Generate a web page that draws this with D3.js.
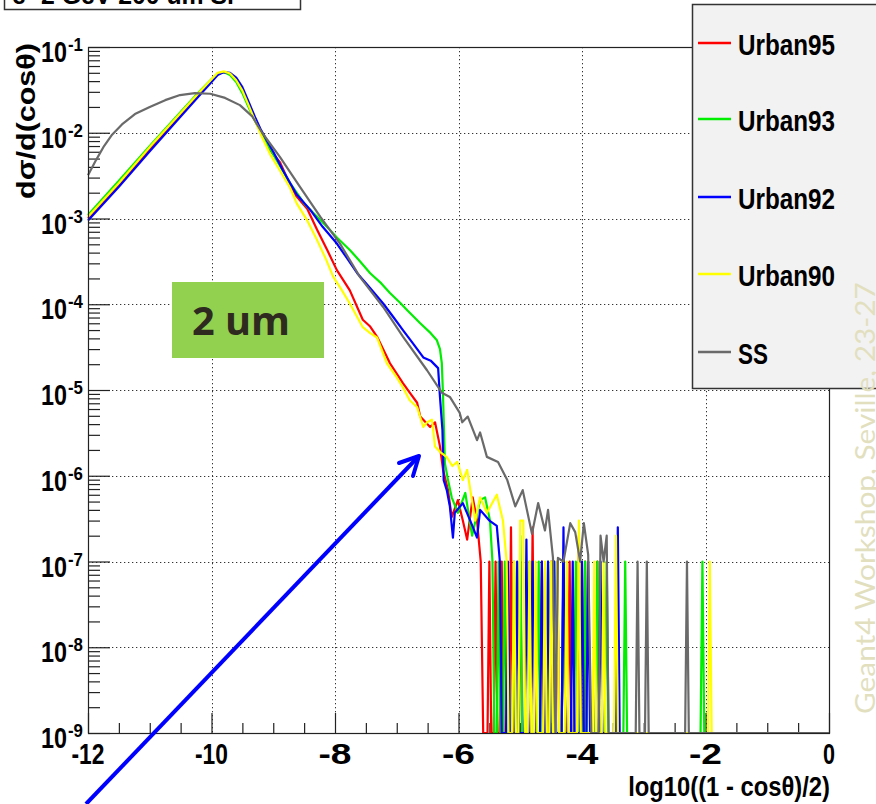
<!DOCTYPE html>
<html><head><meta charset="utf-8">
<script src="https://cdn.jsdelivr.net/npm/d3@7"></script>
<style>body{margin:0;background:#fff;} svg{display:block;}</style>
</head><body>
<svg id="c" width="876" height="804"></svg>
<script>
// ---------------- data ----------------
const seriesNames = ["Urban95", "Urban93", "Urban92", "Urban90", "SS"];
const seriesColors = ["#ff0000", "#00ee00", "#0000ff", "#ffff00", "#6a6a6a"];
const xTickValues = [-12, -10, -8, -6, -4, -2, 0];
const yTickExponents = [-1, -2, -3, -4, -5, -6, -7, -8, -9];

const urban95 = [[-12,1.0e-3],[-11.5,2.5e-3],[-11,6.4e-3],[-10.5,1.6e-2],[-10.2,2.8e-2],[-10.0,4.0e-2],[-9.9,4.8e-2],[-9.8,5.1e-2],[-9.7,4.9e-2],[-9.6,4.2e-2],[-9.5,3.2e-2],[-9.4,2.2e-2],[-9.3,1.5e-2],[-9.2,1.05e-2],
[-9.05,6.3e-3],[-8.89,4.5e-3],[-8.75,2.7e-3],[-8.62,1.8e-3],[-8.45,1.3e-3],[-8.29,7.4e-4],[-8.12,4.2e-4],[-7.97,2.5e-4],[-7.76,1.45e-4],[-7.55,6.6e-5],[-7.43,5.5e-5],[-7.32,4.2e-5],[-7.11,2.05e-5],[-6.90,1.2e-5],[-6.79,9.3e-6],[-6.67,7.1e-6],[-6.62,4.9e-6],[-6.46,3.7e-6],[-6.38,4.2e-6],[-6.30,2.2e-6],[-6.25,1.17e-6],[-6.17,6.8e-7],[-6.11,3.3e-7],[-6.01,5.2e-7],[-5.93,3.0e-7],[-5.86,1.8e-7],[-5.77,5.6e-7],[-5.70,3.0e-7],[-5.64,1.0e-7],[-5.60,0],
[-5.53,0],[-5.50,1e-7],[-5.47,0],[-5.43,0],[-5.40,1e-7],[-5.37,0],[-5.33,0],[-5.30,1e-7],[-5.27,0],[-5.18,0],[-5.15,2.5e-7],[-5.12,0],[-5.03,0],[-5.00,1e-7],[-4.97,0],[-4.83,0],[-4.80,2.5e-7],[-4.77,0],[-4.68,0],[-4.65,1e-7],[-4.62,0],[-4.53,0],[-4.50,1e-7],[-4.47,0],[-4.43,0],[-4.40,1e-7],[-4.37,0],[-4.33,0],[-4.30,1e-7],[-4.27,0],[-4.23,0],[-4.20,1e-7],[-4.17,0],[-4.08,0],[-4.05,2e-7],[-4.02,0],[-3.98,0],[-3.95,1e-7],[-3.92,0],[-3.78,0],[-3.75,1e-7],[-3.72,0],[0,0]];

const urban93 = [[-12,1.1e-3],[-11.5,2.75e-3],[-11,7.0e-3],[-10.5,1.75e-2],[-10.2,3.0e-2],[-10.0,4.2e-2],[-9.9,4.9e-2],[-9.8,5.1e-2],[-9.7,4.7e-2],[-9.6,3.9e-2],[-9.5,2.9e-2],[-9.4,2.0e-2],[-9.3,1.4e-2],[-9.17,9.0e-3],[-9.0,5.6e-3],[-8.73,2.6e-3],[-8.5,1.5e-3],[-8.29,1.05e-3],[-8.1,7.6e-4],[-7.97,6.0e-4],[-7.76,4.3e-4],[-7.6,3.2e-4],[-7.43,2.3e-4],[-7.25,1.75e-4],[-7.11,1.35e-4],[-6.95,1.05e-4],[-6.83,8.5e-5],[-6.62,6.0e-5],[-6.45,4.6e-5],[-6.35,3.8e-5],[-6.30,3.0e-5],[-6.27,2.05e-5],[-6.25,8.3e-6],[-6.22,1.4e-6],[-6.17,8.9e-7],[-6.11,5.6e-7],[-6.01,3.7e-7],[-5.89,6.3e-7],[-5.78,2.0e-7],[-5.65,5.2e-7],[-5.57,5.6e-7],[-5.49,3.0e-7],[-5.45,1.0e-7],[-5.42,0],
[-5.38,0],[-5.35,1e-7],[-5.32,0],[-5.28,0],[-5.25,1e-7],[-5.22,0],[-5.13,0],[-5.10,1e-7],[-5.07,0],[-5.03,0],[-5.00,2e-7],[-4.97,0],[-4.88,0],[-4.85,1e-7],[-4.82,0],[-4.73,0],[-4.70,1e-7],[-4.67,0],[-4.58,0],[-4.55,1e-7],[-4.52,0],[-4.48,0],[-4.45,1e-7],[-4.42,0],[-4.33,0],[-4.30,1e-7],[-4.27,0],[-4.13,0],[-4.10,1e-7],[-4.07,0],[-3.98,0],[-3.95,1e-7],[-3.92,0],[-3.78,0],[-3.75,1e-7],[-3.72,0],[-3.63,0],[-3.60,1e-7],[-3.57,0],[-3.33,0],[-3.30,1e-7],[-3.27,0],[-2.08,0],[-2.05,1e-7],[-2.02,0],[0,0]];

const urban92 = [[-12,9.5e-4],[-11.5,2.35e-3],[-11,6.1e-3],[-10.5,1.55e-2],[-10.2,2.7e-2],[-10.0,3.9e-2],[-9.9,4.7e-2],[-9.8,5.1e-2],[-9.7,5.0e-2],[-9.6,4.4e-2],[-9.5,3.4e-2],[-9.4,2.3e-2],[-9.3,1.55e-2],[-9.2,1.08e-2],[-9.0,6.0e-3],[-8.84,3.6e-3],[-8.62,1.9e-3],[-8.40,1.26e-3],[-8.2,8.0e-4],[-7.97,5.1e-4],[-7.8,3.4e-4],[-7.64,2.3e-4],[-7.45,1.6e-4],[-7.22,1.02e-4],[-7.05,7.0e-5],[-6.90,5.0e-5],[-6.75,3.6e-5],[-6.57,2.4e-5],[-6.45,2.2e-5],[-6.33,1.8e-5],[-6.30,8.3e-6],[-6.26,3.4e-6],[-6.24,8.9e-7],[-6.19,6.8e-7],[-6.14,4.4e-7],[-6.09,1.9e-7],[-6.06,3.7e-7],[-5.93,4.8e-7],[-5.81,3.0e-7],[-5.70,1.9e-7],[-5.65,4.0e-7],[-5.50,3.0e-7],[-5.38,2.6e-7],[-5.33,1.0e-7],[-5.30,0],
[-5.23,0],[-5.20,1e-7],[-5.17,0],[-5.08,0],[-5.05,1e-7],[-5.02,0],[-4.93,0],[-4.90,1.8e-7],[-4.87,0],[-4.83,0],[-4.80,1e-7],[-4.77,0],[-4.68,0],[-4.65,1e-7],[-4.62,0],[-4.58,0],[-4.55,1e-7],[-4.52,0],[-4.48,0],[-4.45,1e-7],[-4.42,0],[-4.33,0],[-4.30,2.5e-7],[-4.27,0],[-4.18,0],[-4.15,1e-7],[-4.12,0],[-4.03,0],[-4.00,1e-7],[-3.97,0],[-3.93,0],[-3.90,1e-7],[-3.87,0],[-3.73,0],[-3.70,1e-7],[-3.67,0],[-3.45,0],[-3.42,2.5e-7],[-3.39,0],[0,0]];

const urban90 = [[-12,1.05e-3],[-11.5,2.6e-3],[-11,6.8e-3],[-10.5,1.7e-2],[-10.2,2.95e-2],[-10.0,4.2e-2],[-9.9,5.0e-2],[-9.8,5.2e-2],[-9.7,4.9e-2],[-9.6,4.1e-2],[-9.5,3.1e-2],[-9.4,2.1e-2],[-9.3,1.4e-2],[-9.2,9.5e-3],[-9.05,5.6e-3],[-8.89,3.6e-3],[-8.73,2.3e-3],[-8.62,1.5e-3],[-8.45,9.5e-4],[-8.29,5.6e-4],[-8.15,3.4e-4],[-8.03,2.1e-4],[-7.90,1.5e-4],[-7.76,1.02e-4],[-7.55,5.4e-5],[-7.43,4.6e-5],[-7.32,4.1e-5],[-7.16,2.05e-5],[-7.0,1.4e-5],[-6.90,1.07e-5],[-6.79,7.6e-6],[-6.67,6.3e-6],[-6.57,3.7e-6],[-6.51,4.2e-6],[-6.43,4.5e-6],[-6.38,2.2e-6],[-6.30,1.9e-6],[-6.19,1.65e-6],[-6.10,1.3e-6],[-6.02,1.45e-6],[-5.93,8.9e-7],[-5.86,1.17e-6],[-5.73,3.0e-7],[-5.65,5.6e-7],[-5.54,3.7e-7],[-5.38,6.0e-7],[-5.28,3.0e-7],[-5.22,1.0e-7],[-5.19,0],
[-5.13,0],[-5.10,1e-7],[-5.07,0],[-5.03,0],[-5.00,3e-7],[-4.95,3e-7],[-4.92,0],[-4.88,0],[-4.85,1e-7],[-4.82,0],[-4.78,0],[-4.75,1e-7],[-4.72,0],[-4.63,0],[-4.60,1e-7],[-4.57,0],[-4.53,0],[-4.50,1e-7],[-4.47,0],[-4.43,0],[-4.40,1e-7],[-4.37,0],[-4.28,0],[-4.25,1e-7],[-4.22,0],[-4.08,0],[-4.05,3e-7],[-4.02,0],[-3.83,0],[-3.80,1e-7],[-3.77,0],[-3.68,0],[-3.65,1e-7],[-3.62,0],[-3.48,0],[-3.45,2e-7],[-3.42,0],[-1.96,0],[-1.93,1e-7],[-1.90,0],[0,0]];

const ss = [[-12,3.2e-3],[-11.87,4.8e-3],[-11.74,7.0e-3],[-11.61,9.5e-3],[-11.45,1.25e-2],[-11.24,1.65e-2],[-11.0,2.0e-2],[-10.75,2.4e-2],[-10.51,2.75e-2],[-10.27,2.9e-2],[-10.02,2.85e-2],[-9.78,2.55e-2],[-9.54,2.1e-2],[-9.34,1.55e-2],[-9.18,1.0e-2],[-8.89,5.2e-3],[-8.57,2.35e-3],[-8.24,1.05e-3],[-7.92,5.1e-4],[-7.60,2.1e-4],[-7.22,9.3e-5],[-6.90,4.2e-5],[-6.51,1.7e-5],[-6.27,9.3e-6],[-6.14,8.3e-6],[-5.98,5.4e-6],[-5.94,4.2e-6],[-5.85,4.9e-6],[-5.70,2.6e-6],[-5.65,3.2e-6],[-5.54,1.66e-6],[-5.36,1.45e-6],[-5.21,8.9e-7],[-5.08,4.4e-7],[-4.96,6.8e-7],[-4.81,2.1e-7],[-4.71,4.8e-7],[-4.60,2.3e-7],[-4.55,4.0e-7],[-4.47,1.1e-7],[-4.43,0],[-4.39,1.1e-7],[-4.30,1.0e-7],[-4.19,2.8e-7],[-4.11,2.2e-7],[-4.03,1.0e-7],[-3.97,2.8e-7],[-3.90,1.2e-7],[-3.85,0],
[-3.73,0],[-3.70,2e-7],[-3.65,1e-7],[-3.60,2e-7],[-3.57,0],[-3.13,0],[-3.10,1e-7],[-3.07,0],[-2.98,0],[-2.95,1e-7],[-2.92,0],[-2.33,0],[-2.30,1e-7],[-2.27,0],[0,0]];

const seriesData = [urban95, urban93, urban92, urban90, ss];
const xTitle = "log10((1 - cos\u03b8)/2)";
const yTitle = "d\u03c3/d(cos\u03b8)";
const boxLabel = "2 um";
const topTitle = "e- 2 GeV 200 um Si";
const watermark = "Geant4 Workshop, Seville, 23-27";

// ---------------- drawing ----------------
const svg = d3.select("#c");
const L = 88, R = 829, T = 47, B = 733;
const xScale = d3.scaleLinear().domain([-12, 0]).range([L, R]);
const yScale = d3.scaleLog().domain([1e-9, 1e-1]).range([B, T]);
const FONT = "'Liberation Sans', Arial, Helvetica, sans-serif";

function fitText(parent, str, x, y, size, anchor, width, opts) {
  opts = opts || {};
  const g = parent.append("g");
  const t = g.append("text").text(str)
    .attr("font-family", opts.family || FONT)
    .attr("font-weight", opts.weight || "bold")
    .attr("font-size", size)
    .attr("text-anchor", anchor)
    .attr("fill", opts.fill || "#000");
  let k = 1;
  if (width) { const len = t.node().getComputedTextLength(); if (len > 0) k = width / len; }
  g.attr("transform", `translate(${x},${y}) rotate(${opts.rotate || 0}) scale(${k},1)`);
  return g;
}

svg.append("rect").attr("width", 876).attr("height", 804).attr("fill", "#fff");

// grid
const grid = svg.append("g").attr("stroke", "#333").attr("stroke-width", 1).attr("stroke-dasharray", "1.3,2.7");
xTickValues.filter(v => v > -12 && v < 0).forEach(v => {
  const x = Math.round(xScale(v)) + 0.5;
  grid.append("line").attr("x1", x).attr("x2", x).attr("y1", T).attr("y2", B);
});
yTickExponents.filter(e => e < -1 && e > -9).forEach(e => {
  const y = Math.round(yScale(Math.pow(10, e))) + 0.5;
  grid.append("line").attr("x1", L).attr("x2", R).attr("y1", y).attr("y2", y);
});

// axes ticks (inside)
const xMinor = d3.range(-12, 0.001, 0.5).filter(v => Math.abs(v % 2) > 0.01);
const gx = svg.append("g").attr("transform", `translate(0,${B})`);
gx.call(d3.axisBottom(xScale).tickValues(xTickValues).tickSize(-20).tickFormat(""));
gx.call(g => g.select(".domain").remove());
const gx2 = svg.append("g").attr("transform", `translate(0,${B})`);
gx2.call(d3.axisBottom(xScale).tickValues(xMinor).tickSize(-10).tickFormat(""));
gx2.call(g => g.select(".domain").remove());

const decades = yTickExponents.map(e => Math.pow(10, e));
const yMinor = yScale.ticks().filter(v => Math.abs(Math.log10(v) - Math.round(Math.log10(v))) > 1e-6);
const gy = svg.append("g").attr("transform", `translate(${L},0)`);
gy.call(d3.axisLeft(yScale).tickValues(decades).tickSize(-22).tickFormat(""));
gy.call(g => g.select(".domain").remove());
const gy2 = svg.append("g").attr("transform", `translate(${L},0)`);
gy2.call(d3.axisLeft(yScale).tickValues(yMinor).tickSize(-12).tickFormat(""));
gy2.call(g => g.select(".domain").remove());
svg.selectAll(".tick line").attr("stroke", "#222").attr("stroke-width", 1.2);

// series
const line = d3.line().x(d => xScale(d[0])).y(d => yScale(Math.max(d[1], 1e-9)));
const gs = svg.append("g");
seriesData.forEach((d, i) => {
  gs.append("path").attr("d", line(d)).attr("fill", "none")
    .attr("stroke", seriesColors[i]).attr("stroke-width", 2.2).attr("stroke-linejoin", "round");
});

// frame
svg.append("rect").attr("x", L + 0.5).attr("y", T + 0.5).attr("width", R - L).attr("height", B - T)
  .attr("fill", "none").attr("stroke", "#222").attr("stroke-width", 1.2);

// x tick labels
xTickValues.forEach(v => {
  fitText(svg, String(v), xScale(v), 764, 30, "middle", v === 0 ? 12 : 33);
});
// y tick labels
yTickExponents.forEach(e => {
  const y = yScale(Math.pow(10, e));
  fitText(svg, "10", 67, y + 15, 29, "end", 26);
  fitText(svg, String(e), 68, y + 4, 18, "start", 15);
});

// axis titles
fitText(svg, xTitle, 830, 796, 28, "end", 202);
fitText(svg, yTitle, 35, 121, 26, "middle", 156, {rotate: -90});

// legend
const lg = svg.append("g");
lg.append("rect").attr("x", 692.5).attr("y", 4.5).attr("width", 200).attr("height", 384)
  .attr("fill", "#f2f2f2").attr("stroke", "#333").attr("stroke-width", 1.5);
const legendY = [43, 119, 197, 274, 352];
seriesNames.forEach((n, i) => {
  lg.append("line").attr("x1", 698).attr("x2", 731).attr("y1", legendY[i]).attr("y2", legendY[i])
    .attr("stroke", seriesColors[i]).attr("stroke-width", 2.5);
  fitText(lg, n, 738, legendY[i] + 12, 30, "start", n === "SS" ? 30 : 97);
});

// green annotation box
svg.append("rect").attr("x", 172).attr("y", 282).attr("width", 152).attr("height", 76).attr("fill", "#92d050");
fitText(svg, boxLabel, 192, 335, 40, "start", 98, {family: "'Open Sans', Lato, sans-serif", fill: "#2e2a1f"});

// blue arrow
svg.append("line").attr("x1", 86).attr("y1", 804).attr("x2", 418).attr("y2", 457)
  .attr("stroke", "#0000ff").attr("stroke-width", 4);
svg.append("polyline").attr("points", "399,463 419,456 413,476").attr("fill", "none")
  .attr("stroke", "#0000ff").attr("stroke-width", 4).attr("stroke-linecap", "round").attr("stroke-linejoin", "round");

// top-left title box (cut off)
svg.append("rect").attr("x", 4.5).attr("y", -20).attr("width", 296).attr("height", 29.5)
  .attr("fill", "#fff").attr("stroke", "#333").attr("stroke-width", 1.5);
fitText(svg, topTitle, 12, 4, 26, "start", 222);

// watermark
fitText(svg, watermark, 875, 714, 26, "start", 432,
  {family: "Lato, 'Open Sans', sans-serif", weight: "normal", fill: "#e2dfbf", rotate: -90});
</script>
</body></html>
